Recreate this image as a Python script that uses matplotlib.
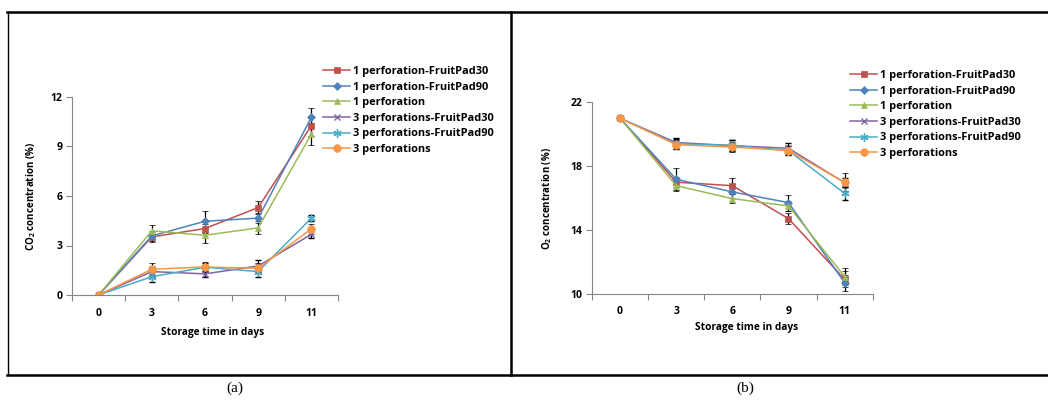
import matplotlib
matplotlib.use("Agg")
import matplotlib.pyplot as plt
from matplotlib.lines import Line2D
import numpy as np

plt.rcParams['font.family'] = ['Open Sans', 'DejaVu Sans']
plt.rcParams['font.weight'] = 'bold'
plt.rcParams['mathtext.fontset'] = 'custom'
plt.rcParams['mathtext.rm'] = 'Open Sans:bold'
plt.rcParams['mathtext.default'] = 'rm'

days = ['0', '3', '6', '9', '11']
labels = ['1 perforation-FruitPad30', '1 perforation-FruitPad90', '1 perforation',
          '3 perforations-FruitPad30', '3 perforations-FruitPad90', '3 perforations']
colors = ['#C0504D', '#4F81BD', '#9BBB59', '#8064A2', '#4BACC6', '#F79646']
markers = ['s', 'D', '^', 'x', (6, 2, 0), 'o']
msizes = [5, 3.8, 5, 5, 6, 5.5]

# CO2 (%) per treatment
co2_p1_fp30 = [0, 3.52, 4.03, 5.30, 10.26]
co2_p1_fp90 = [0, 3.58, 4.47, 4.66, 10.77]
co2_p1 = [0, 3.89, 3.62, 4.07, 9.76]
co2_p3_fp30 = [0, 1.42, 1.28, 1.76, 3.68]
co2_p3_fp90 = [0, 1.11, 1.68, 1.42, 4.66]
co2_p3 = [0, 1.56, 1.70, 1.62, 4.01]

co2_err = [[0, 0.3, 0.3, 0.4, 0.6],
           [0, 0.3, 0.63, 0.3, 0.57],
           [0, 0.35, 0.44, 0.4, 0.65],
           [0, 0.3, 0.2, 0.35, 0.25],
           [0, 0.3, 0.25, 0.3, 0.2],
           [0, 0.36, 0.3, 0.3, 0.3]]

# O2 (%) per treatment
o2_p1_fp30 = [21.0, 17.0, 16.78, 14.72, 10.92]
o2_p1_fp90 = [21.0, 17.18, 16.39, 15.72, 10.71]
o2_p1 = [21.0, 16.78, 15.97, 15.51, 11.09]
o2_p3_fp30 = [21.0, 19.48, 19.29, 19.12, 16.97]
o2_p3_fp90 = [21.0, 19.39, 19.31, 18.98, 16.30]
o2_p3 = [21.0, 19.35, 19.20, 18.98, 16.99]

o2_err = [[0, 0.3, 0.5, 0.36, 0.5],
          [0, 0.7, 0.4, 0.5, 0.5],
          [0, 0.33, 0.3, 0.3, 0.55],
          [0, 0.3, 0.35, 0.35, 0.3],
          [0, 0.3, 0.3, 0.3, 0.4],
          [0, 0.3, 0.3, 0.3, 0.57]]

W, H = 1048, 401
fig = plt.figure(figsize=(W / 100, H / 100), dpi=100)


def px_axes(x0, x1, ytop, ybot):
    return fig.add_axes([x0 / W, (H - ybot) / H, (x1 - x0) / W, (ybot - ytop) / H])


def draw_panel(ax, series, errs, ylim, yticks, ylabel, ylab_x, xlab_xy, leg_xy):
    x = np.arange(len(days))
    handles = []
    for vals, err, lab, c, m, ms in zip(series, errs, labels, colors, markers, msizes):
        mew = 0.5 if m in ['s', 'D', '^', 'o'] else 1.0
        ax.errorbar(x, vals, yerr=err, color=c, marker=m, markersize=ms, lw=1.1,
                    ecolor='black', elinewidth=0.9, capsize=2.5, capthick=0.9,
                    markeredgewidth=mew, markeredgecolor=c)
        handles.append(Line2D([], [], color=c, marker=m, markersize=ms, lw=1.1,
                              markeredgewidth=mew, markeredgecolor=c, label=lab))
    ax.set_xlim(-0.5, len(days) - 0.5)
    ax.set_ylim(*ylim)
    ax.set_yticks(yticks)
    ax.set_xticks(np.arange(len(days) + 1) - 0.5)
    ax.set_xticklabels([])
    ax.set_xticks(x, minor=True)
    ax.set_xticklabels(days, minor=True)
    ax.tick_params(axis='x', which='minor', length=0, pad=9, labelsize=7.5)
    ax.tick_params(axis='x', which='major', length=4, color='#868686', direction='out')
    ax.tick_params(axis='y', length=4, color='#868686', labelsize=7.5, pad=3)
    for s in ['top', 'right']:
        ax.spines[s].set_visible(False)
    for s in ['left', 'bottom']:
        ax.spines[s].set_color('#868686')
    ax.set_ylabel(ylabel, fontsize=7, fontweight='bold')
    ax.yaxis.set_label_coords(ylab_x, 0.5)
    ax.set_xlabel('Storage time in days', fontsize=7.3, fontweight='bold')
    ax.xaxis.set_label_coords(*xlab_xy)
    ax.legend(handles=handles, loc='upper left',
              bbox_to_anchor=(leg_xy[0] / W, (H - leg_xy[1]) / H),
              bbox_transform=fig.transFigure, frameon=False, fontsize=7.9,
              handlelength=2.5, handletextpad=0.2, labelspacing=0.42, borderpad=0,
              borderaxespad=0)


ax_a = px_axes(72, 338, 97, 295)
draw_panel(ax_a, [co2_p1_fp30, co2_p1_fp90, co2_p1, co2_p3_fp30, co2_p3_fp90, co2_p3],
           co2_err, (0, 12), [0, 3, 6, 9, 12], 'CO$_2$ concentration (%)',
           -0.128, (0.53, -0.16), (323, 66))

ax_b = px_axes(592, 872.7, 102.3, 294)
draw_panel(ax_b, [o2_p1_fp30, o2_p1_fp90, o2_p1, o2_p3_fp30, o2_p3_fp90, o2_p3],
           o2_err, (10, 22), [10, 14, 18, 22], 'O$_2$ concentration (%)',
           -0.135, (0.552, -0.145), (850, 70))


# table borders
def hline(y, x0, x1, lw=1.8):
    fig.add_artist(Line2D([x0 / W, x1 / W], [(H - y) / H] * 2, color='black', lw=lw))


def vline(x, y0, y1, lw=1.8):
    fig.add_artist(Line2D([x / W] * 2, [(H - y0) / H, (H - y1) / H], color='black', lw=lw))


hline(12, 7, W)
hline(375, 7, W)
vline(7.5, 12, 375, lw=1.0)
vline(511, 12, 375)

fig.text(235 / W, (H - 388) / H, '(a)', family='Liberation Serif', fontweight='normal',
         fontsize=11, ha='center', va='center')
fig.text(745 / W, (H - 388) / H, '(b)', family='Liberation Serif', fontweight='normal',
         fontsize=11, ha='center', va='center')

fig.savefig('out.png', dpi=100)
